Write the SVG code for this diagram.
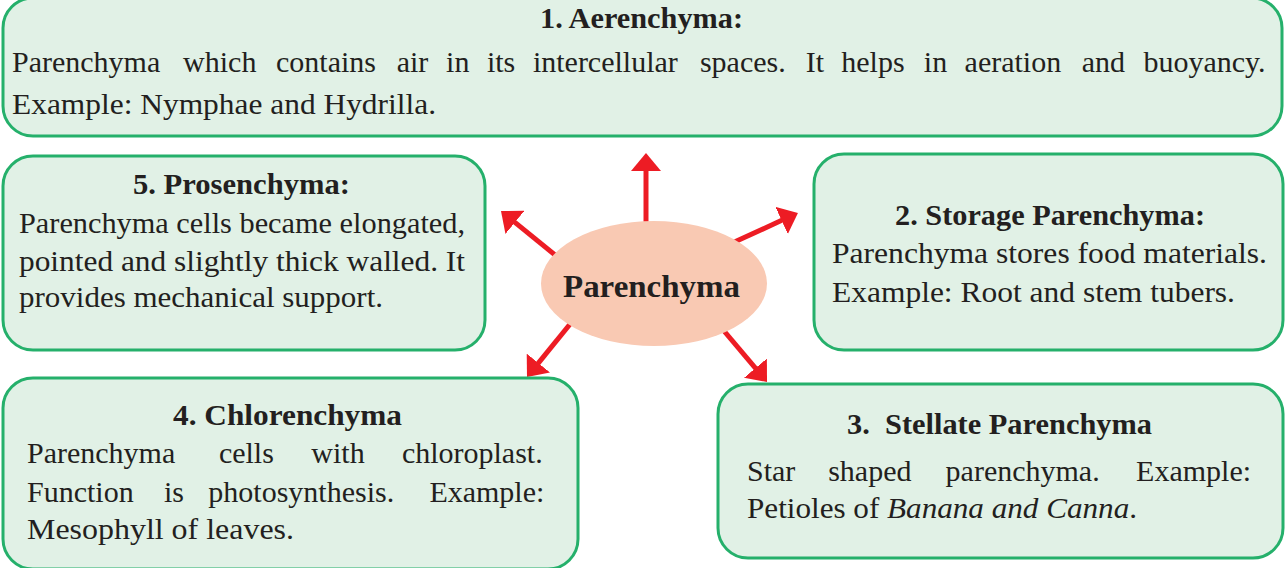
<svg xmlns="http://www.w3.org/2000/svg" width="1285" height="568" viewBox="0 0 1285 568">
<defs>
<style>
.box{fill:#e1f1e6;stroke:#25b06b;stroke-width:3}
.t{font-family:"Liberation Serif","Times New Roman",serif;font-size:30px;fill:#231f20}
.b{font-weight:bold}
.c{text-anchor:middle}
.arrow{stroke:#ed1c24;stroke-width:5;fill:none;marker-end:url(#ah)}
</style>
<marker id="ah" markerUnits="userSpaceOnUse" markerWidth="18" markerHeight="30" viewBox="0 0 18 30" refX="2" refY="15" orient="auto">
<path d="M0,0 L18,15 L0,30 Z" fill="#ed1c24"/>
</marker>
</defs>
<rect width="1285" height="568" fill="#ffffff"/>

<g id="connectors">
<line class="arrow" x1="646" y1="230" x2="646" y2="169"/>
<line class="arrow" x1="560" y1="259" x2="513.4" y2="221.1"/>
<line class="arrow" x1="730" y1="244" x2="783.4" y2="219.6"/>
<line class="arrow" x1="575" y1="318" x2="537.1" y2="364.6"/>
<line class="arrow" x1="719" y1="325" x2="756.7" y2="369.7"/>
</g>

<g id="center">
<ellipse cx="654" cy="283.5" rx="113" ry="62.5" fill="#f9c9b3"/>
<text class="t b" x="563" y="297" font-size="32" textLength="177" lengthAdjust="spacingAndGlyphs" style="font-size:32px">Parenchyma</text>
</g>

<g id="node1">
<rect class="box" x="3" y="-2" width="1279" height="138" rx="30" ry="30"/>
<text class="t b" x="540" y="28" textLength="203" lengthAdjust="spacingAndGlyphs">1. Aerenchyma:</text>
<text class="t" y="72"><tspan x="12">Parenchyma </tspan><tspan x="183.1">which </tspan><tspan x="276">contains </tspan><tspan x="396.7">air </tspan><tspan x="446.1">in </tspan><tspan x="486.9">its </tspan><tspan x="532.9">intercellular </tspan><tspan x="699.9">spaces. </tspan><tspan x="805.8">It </tspan><tspan x="841.3">helps </tspan><tspan x="923.8">in </tspan><tspan x="964.6">aeration </tspan><tspan x="1081.8">and </tspan><tspan x="1143.4">buoyancy.</tspan></text>
<text class="t" x="12" y="114" textLength="424" lengthAdjust="spacingAndGlyphs">Example: Nymphae and Hydrilla.</text>
</g>

<g id="node5">
<rect class="box" x="3" y="156" width="482" height="194" rx="30" ry="30"/>
<text class="t b" x="133" y="194" textLength="217" lengthAdjust="spacingAndGlyphs">5. Prosenchyma:</text>
<text class="t" x="19" y="233" textLength="446" lengthAdjust="spacingAndGlyphs">Parenchyma cells became elongated,</text>
<text class="t" x="19" y="271" textLength="446" lengthAdjust="spacingAndGlyphs">pointed and slightly thick walled. It</text>
<text class="t" x="19" y="307" textLength="364" lengthAdjust="spacingAndGlyphs">provides mechanical support.</text>
</g>

<g id="node2">
<rect class="box" x="814" y="154" width="469" height="196" rx="30" ry="30"/>
<text class="t b" x="895" y="225" textLength="310" lengthAdjust="spacingAndGlyphs">2. Storage Parenchyma:</text>
<text class="t" x="832" y="263" textLength="435" lengthAdjust="spacingAndGlyphs">Parenchyma stores food materials.</text>
<text class="t" x="832" y="302" textLength="403" lengthAdjust="spacingAndGlyphs">Example: Root and stem tubers.</text>
</g>

<g id="node4">
<rect class="box" x="3" y="378" width="575" height="191" rx="30" ry="30"/>
<text class="t b" x="173" y="425" textLength="229" lengthAdjust="spacingAndGlyphs">4. Chlorenchyma</text>
<text class="t" y="463"><tspan x="27">Parenchyma </tspan><tspan x="218.9">cells </tspan><tspan x="311.3">with </tspan><tspan x="401.9">chloroplast.</tspan></text>
<text class="t" y="502"><tspan x="27">Function </tspan><tspan x="163.9">is </tspan><tspan x="208.3">photosynthesis. </tspan><tspan x="429.4">Example:</tspan></text>
<text class="t" x="27" y="539" textLength="267" lengthAdjust="spacingAndGlyphs">Mesophyll of leaves.</text>
</g>

<g id="node3">
<rect class="box" x="718" y="384" width="565" height="174" rx="30" ry="30"/>
<text class="t b" x="847" y="434" textLength="305" lengthAdjust="spacingAndGlyphs" style="white-space:pre">3.  Stellate Parenchyma</text>
<text class="t" y="481"><tspan x="747">Star </tspan><tspan x="828.2">shaped </tspan><tspan x="945.6">parenchyma. </tspan><tspan x="1136.1">Example:</tspan></text>
<text class="t" x="747" y="518" textLength="390" lengthAdjust="spacingAndGlyphs">Petioles of <tspan font-style="italic">Banana and Canna</tspan>.</text>
</g>
</svg>
